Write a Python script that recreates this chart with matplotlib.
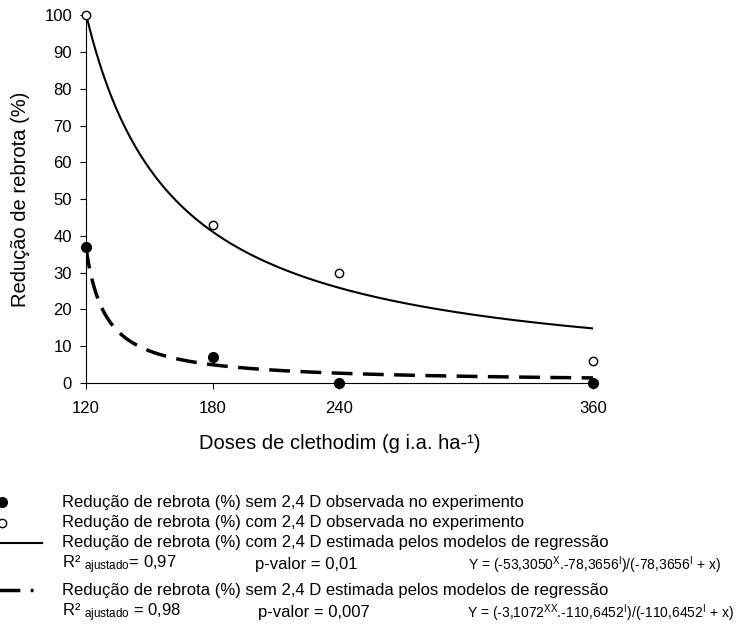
import numpy as np
import matplotlib
matplotlib.use("Agg")
import matplotlib.pyplot as plt
from matplotlib.lines import Line2D
from matplotlib import font_manager

plt.rcParams['font.family'] = ['Liberation Sans', 'DejaVu Sans']
plt.rcParams['mathtext.fontset'] = 'custom'
plt.rcParams['mathtext.rm'] = 'Liberation Sans'
plt.rcParams['mathtext.it'] = 'Liberation Sans:italic'

# doses de clethodim (g i.a. ha-1)
doses = [120, 180, 240, 360]
# reducao de rebrota observada (%)
obs_sem = [37, 7, 0, 0]
obs_com = [100, 43, 30, 6]

# parametros dos modelos Y = (a*b)/(b + x)
par_com = (-53.3050, -78.3656)
par_sem = (-3.1072, -110.6452)

# fonte estreita para as equacoes, se existir
nomes = {f.name for f in font_manager.fontManager.ttflist}
if 'Liberation Sans Narrow' in nomes:
    eq_font, eq_fs = 'Liberation Sans Narrow', 12
else:
    eq_font, eq_fs = 'Liberation Sans', 10

fig = plt.figure(figsize=(7.38, 6.32), dpi=100)
ax = fig.add_axes([0.1165, 0.394, 0.687, 0.582])

x = np.linspace(120, 360, 300)
a, b = par_com
ax.plot(x, a * b / (b + x), color='black', lw=1.5, zorder=2)
a, b = par_sem
ax.plot(x, a * b / (b + x), color='black', lw=2.5, dashes=(6, 3), zorder=2)

ax.plot(doses, obs_com, 'o', ms=6, mfc='white', mec='black', mew=1,
        clip_on=False, zorder=3)
ax.plot(doses, obs_sem, 'o', ms=7, mfc='black', mec='black',
        clip_on=False, zorder=3)

ax.set_xlim(120, 360)
ax.set_ylim(0, 100)
ax.set_xticks(doses)
ax.set_yticks(range(0, 101, 10))
for s in ['top', 'right']:
    ax.spines[s].set_visible(False)
ax.tick_params(direction='out', length=4, labelsize=12)
ax.tick_params(axis='x', pad=9)
ax.tick_params(axis='y', pad=6)
ax.set_ylabel('Redução de rebrota (%)', fontsize=14.5, labelpad=10)
ax.set_xlabel('Doses de clethodim (g i.a. ha-¹)', fontsize=14.5, labelpad=13)

# legenda desenhada abaixo do grafico
W, H = 738.0, 632.0
def fx(px):
    return px / W
def fy(py):
    return 1 - py / H

y1, y2, y3, y4, y5, y6 = 502, 523, 543, 565, 590, 613

fig.add_artist(Line2D([fx(2)], [fy(y1)], marker='o', ms=7, color='black',
                      transform=fig.transFigure))
fig.add_artist(Line2D([fx(2)], [fy(y2)], marker='o', ms=6, mfc='white',
                      mec='black', transform=fig.transFigure))
fig.add_artist(Line2D([fx(0), fx(42)], [fy(y3), fy(y3)], color='black',
                      lw=1.5, transform=fig.transFigure))
fig.add_artist(Line2D([fx(-8), fx(33)], [fy(y5), fy(y5)], color='black',
                      lw=2.5, dashes=(6, 3), transform=fig.transFigure))

fs = 12
tx = fx(62)
fig.text(tx, fy(y1), 'Redução de rebrota (%) sem 2,4 D observada no experimento',
         fontsize=fs, va='center')
fig.text(tx, fy(y2), 'Redução de rebrota (%) com 2,4 D observada no experimento',
         fontsize=fs, va='center')
fig.text(tx, fy(y3), 'Redução de rebrota (%) com 2,4 D estimada pelos modelos de regressão',
         fontsize=fs, va='center')
fig.text(tx, fy(y4), r'R² $_{\mathrm{ajustado}}$= 0,97', fontsize=fs, va='center')
fig.text(fx(255), fy(y4), 'p-valor = 0,01', fontsize=fs, va='center')
fig.text(fx(468), fy(y4),
         r'Y = (-53,3050$^{\mathrm{X}}$.-78,3656$^{\mathrm{I}}$)/(-78,3656$^{\mathrm{I}}$ + x)',
         fontsize=eq_fs, family=eq_font, va='center')
fig.text(tx, fy(y5), 'Redução de rebrota (%) sem 2,4 D estimada pelos modelos de regressão',
         fontsize=fs, va='center')
fig.text(tx, fy(y6), r'R² $_{\mathrm{ajustado}}$ = 0,98', fontsize=fs, va='center')
fig.text(fx(258), fy(y6), 'p-valor = 0,007', fontsize=fs, va='center')
fig.text(fx(467), fy(y6),
         r'Y = (-3,1072$^{\mathrm{XX}}$.-110,6452$^{\mathrm{I}}$)/(-110,6452$^{\mathrm{I}}$ + x)',
         fontsize=eq_fs, family=eq_font, va='center')

fig.savefig('out.png', dpi=100)
